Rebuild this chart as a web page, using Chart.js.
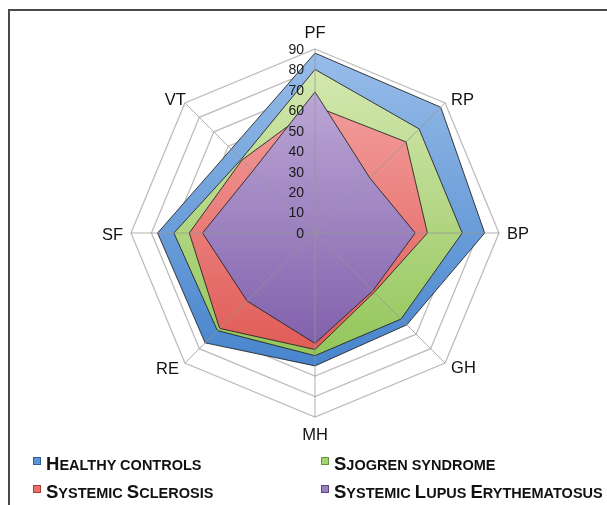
<!DOCTYPE html>
<html>
<head>
<meta charset="utf-8">
<script src="https://cdn.jsdelivr.net/npm/chart.js@4/dist/chart.umd.min.js"></script>
<style>
  html, body { margin: 0; padding: 0; background: #fff; }
  #wrap { position: relative; width: 607px; height: 505px; overflow: hidden; }
  #frame { position: absolute; left: 8px; top: 9px; width: 700px; height: 600px;
           border-top: 2px solid #4a4a4a; border-left: 2px solid #4a4a4a; }
  #cv { position: absolute; left: 0; top: 0; }
  .lg { position: absolute; font-family: "Liberation Sans", Arial, sans-serif; font-weight: bold;
        font-size: 18.5px; color: #111; white-space: nowrap; line-height: 20px; }
  .lg .sm { font-size: 14.5px; }
  .box { position: absolute; width: 6px; height: 6px; }
</style>
</head>
<body>
<div id="wrap">
  <div id="frame"></div>
  <canvas id="cv" width="607" height="505"></canvas>
  <div id="legend"></div>
</div>
<script>
const categories = ["PF", "RP", "BP", "GH", "MH", "RE", "SF", "VT"];
const seriesNames = ["Healthy controls", "Sjogren syndrome", "Systemic Sclerosis", "Systemic Lupus Erythematosus"];
const healthyControls   = [88, 87, 83, 63.5, 65, 76, 77, 58];
const sjogrenSyndrome   = [80, 72, 72, 59.5, 60, 67.5, 69, 51];
const systemicSclerosis = [62, 63, 55, 41, 57, 66, 61.5, 50.5];
const systemicLupus     = [69, 38, 49, 40, 54, 47, 55, 43];
const tickValues = [0, 10, 20, 30, 40, 50, 60, 70, 80, 90];

const topColors    = ["#98bde9", "#d8eab5", "#f6aaa9", "#c6b2dc"];
const bottomColors = ["#4684cc", "#90c456", "#df5752", "#7b5aa8"];
const boxColors    = ["#5d95d8", "#a6d173", "#e9716c", "#9a7fc2"];
const boxBorders   = ["#2f5f9a", "#6b9440", "#a83c38", "#5e4584"];
const allValues = [healthyControls, sjogrenSyndrome, systemicSclerosis, systemicLupus];

// label placement relative to the outer-ring vertex: [align, dx, dy(baseline)]
const labelPlacement = [
  ['center', 0, -11], ['left', 6, 2], ['left', 8, 6], ['left', 6, 10],
  ['center', 0, 23], ['right', -6, 11], ['right', -8, 7], ['right', 1, 2]
];

function gradFor(i) {
  return function(ctx) {
    const chart = ctx.chart;
    const s = chart.scales.r;
    if (!s || !chart.chartArea) return topColors[i];
    const g = chart.ctx.createLinearGradient(0, s.yCenter - s.drawingArea, 0, s.yCenter + s.drawingArea * 0.75);
    g.addColorStop(0, topColors[i]);
    g.addColorStop(1, bottomColors[i]);
    return g;
  };
}

const overlay = {
  id: 'overlay',
  afterDatasetsDraw(chart) {
    const s = chart.scales.r;
    const ctx = chart.ctx;
    ctx.save();
    ctx.strokeStyle = 'rgba(150,150,150,0.75)';
    ctx.lineWidth = 1;
    const outer = s.getDistanceFromCenterForValue(s.max);
    for (let i = 0; i < categories.length; i++) {
      const p = s.getPointPosition(i, outer);
      ctx.beginPath();
      ctx.moveTo(s.xCenter, s.yCenter);
      ctx.lineTo(p.x, p.y);
      ctx.stroke();
    }
    // tick labels
    ctx.fillStyle = '#1a1a1a';
    ctx.font = '14px "Liberation Sans Narrow", "Liberation Sans", Arial, sans-serif';
    ctx.textAlign = 'right';
    ctx.textBaseline = 'middle';
    tickValues.forEach(v => {
      const d = s.getDistanceFromCenterForValue(v);
      ctx.fillText(String(v), s.xCenter - 11, s.yCenter - d + 1);
    });
    // category labels
    ctx.fillStyle = '#111';
    ctx.font = '16.5px "Liberation Sans", Arial, sans-serif';
    ctx.textBaseline = 'alphabetic';
    categories.forEach((c, i) => {
      const p = s.getPointPosition(i, outer);
      const [al, dx, dy] = labelPlacement[i];
      ctx.textAlign = al;
      ctx.fillText(c, p.x + dx, p.y + dy);
    });
    ctx.restore();
  }
};

const datasets = seriesNames.map((name, i) => ({
  label: name,
  data: allValues[i],
  backgroundColor: gradFor(i),
  borderColor: 'rgba(30,30,30,0.85)',
  borderWidth: 1,
  pointRadius: 0,
  fill: true,
  order: 3 - i
}));

new Chart(document.getElementById('cv'), {
  type: 'radar',
  data: { labels: categories, datasets },
  options: {
    responsive: false,
    animation: false,
    layout: { padding: { top: 49, bottom: 88, left: 131, right: 108 } },
    plugins: { legend: { display: false }, tooltip: { enabled: false } },
    elements: { line: { tension: 0 } },
    scales: {
      r: {
        min: 0, max: 90,
        ticks: { stepSize: 10, display: false },
        grid: { color: '#bdbdbd', lineWidth: 1.3 },
        angleLines: { display: false },
        pointLabels: { display: false }
      }
    }
  },
  plugins: [overlay]
});

// legend (HTML, manual small caps)
const legendText = [[46, 454], [334, 454], [46, 482], [334, 482]];
const legendBox  = [[33, 457], [321, 457], [33, 485], [321, 485]];
const lg = document.getElementById('legend');
seriesNames.forEach((name, i) => {
  const b = document.createElement('div');
  b.className = 'box';
  b.style.left = legendBox[i][0] + 'px';
  b.style.top = legendBox[i][1] + 'px';
  b.style.background = boxColors[i];
  b.style.border = '1px solid ' + boxBorders[i];
  lg.appendChild(b);
  const d = document.createElement('div');
  d.className = 'lg';
  d.style.left = legendText[i][0] + 'px';
  d.style.top = legendText[i][1] + 'px';
  for (const ch of name) {
    if (ch === ch.toUpperCase() && ch !== ' ') {
      d.appendChild(document.createTextNode(ch));
    } else {
      const sp = document.createElement('span');
      sp.className = 'sm';
      sp.textContent = ch.toUpperCase();
      d.appendChild(sp);
    }
  }
  lg.appendChild(d);
});
</script>
</body>
</html>
